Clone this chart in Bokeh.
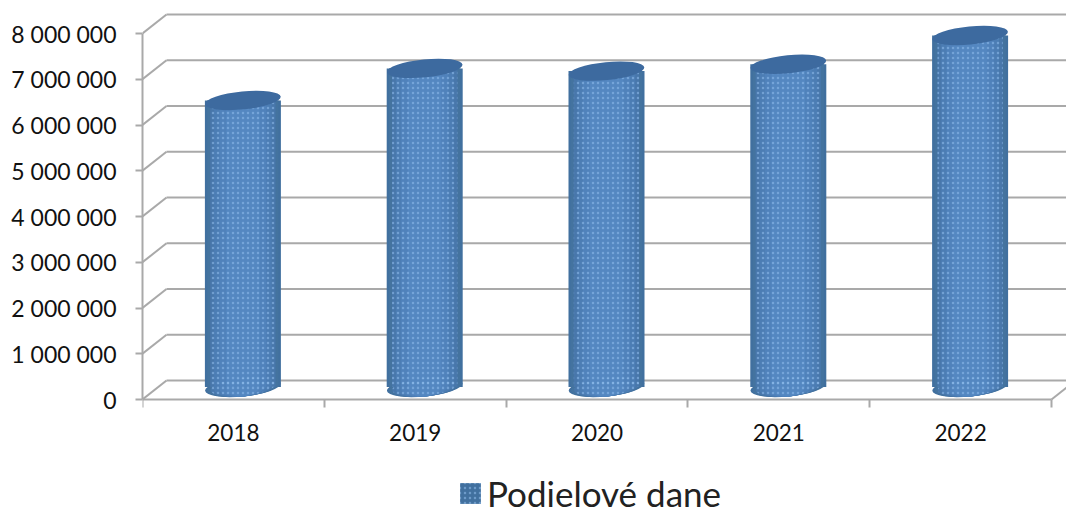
from bokeh.plotting import figure
from bokeh.models import ColumnDataSource, FixedTicker, Legend, LegendItem, CustomJSTickFormatter, Range1d
from bokeh.embed import file_html
from bokeh.resources import INLINE

years = ["2018", "2019", "2020", "2021", "2022"]
values = [6330000, 7030000, 6970000, 7120000, 7750000]
y_ticks = [0, 1000000, 2000000, 3000000, 4000000, 5000000, 6000000, 7000000, 8000000]
series_name = "Podielové dane"

W, H = 1066, 513
LEFT, BOTTOM = 142, 114
PX_CAT = 181.8
PX_M = 45.75
DX = 24 / PX_CAT
DY = 19 / PX_M * 1e6
BASE = 12.5 / PX_M * 1e6
FONT = "Lato"

x_end = (W - LEFT) / PX_CAT
y_end = (H - BOTTOM) / PX_M * 1e6
y_start = -BOTTOM / PX_M * 1e6

p = figure(width=W, height=H, output_backend="svg", toolbar_location=None,
           x_range=Range1d(0, x_end), y_range=Range1d(y_start, y_end),
           min_border_left=LEFT, min_border_bottom=0, min_border_top=0, min_border_right=0,
           outline_line_color=None, background_fill_color="white")
p.grid.visible = False

GRID = "#a9a9a9"
n = len(years)
p.segment(x0=[0] * len(y_ticks), y0=y_ticks, x1=[DX] * len(y_ticks), y1=[v + DY for v in y_ticks],
          line_color=GRID, line_width=2)
p.segment(x0=[DX] * len(y_ticks), y0=[v + DY for v in y_ticks], x1=[n + DX] * len(y_ticks),
          y1=[v + DY for v in y_ticks], line_color=GRID, line_width=2)
p.segment(x0=[n], y0=[0], x1=[n + DX], y1=[DY], line_color=GRID, line_width=2)

xc = [i + 0.5 + DX / 2 - 2.5 / PX_CAT for i in range(n)]
src = ColumnDataSource(dict(x=xc, top=[v + DY / 2 for v in values], bottom=[BASE] * n))
BW = 76 / PX_CAT
ELL = dict(width_units="screen", height_units="screen", angle=0.1, source=src, line_color=None)
base = p.vbar(x="x", top="top", bottom="bottom", width=BW, source=src, fill_color="#41709f", line_color=None)
p.ellipse(x="x", y="bottom", width=76, height=19, fill_color="#41709f", **ELL)
for frac, col in [(0.94, "#44739f"), (0.86, "#4877ab"), (0.76, "#4c7db4"), (0.62, "#5082bb"), (0.44, "#5487c1")]:
    p.vbar(x="x", top="top", bottom="bottom", width=BW * frac, source=src, fill_color=col, line_color=None)
    p.ellipse(x="x", y="bottom", width=76 * frac, height=19, fill_color=col, **ELL)
dots = p.vbar(x="x", top="top", bottom="bottom", width=BW * 0.86, source=src, fill_alpha=0, line_color=None,
              hatch_pattern="dot", hatch_color="#8fbcec", hatch_scale=5, hatch_alpha=0.55)
p.ellipse(x="x", y="bottom", width=76 * 0.86, height=18, fill_alpha=0,
          hatch_pattern="dot", hatch_color="#8fbcec", hatch_scale=5, hatch_alpha=0.55, **ELL)
p.ellipse(x="x", y="top", width=76, height=18, fill_color="#3d6a9f", **ELL)

ax = p.yaxis[0]
ax.ticker = FixedTicker(ticks=y_ticks)
ax.bounds = (0, 8000000)
ax.formatter = CustomJSTickFormatter(code="return tick.toString().replace(/\\B(?=(\\d{3})+(?!\\d))/g, ' ')")
ax.axis_line_color = GRID
ax.axis_line_width = 2
ax.major_tick_line_color = GRID
ax.major_tick_line_width = 2
ax.major_tick_out = 7
ax.major_tick_in = 0
ax.minor_tick_line_color = None
ax.major_label_text_font = FONT
ax.major_label_text_font_size = "23px"
ax.major_label_text_color = "#111111"
ax.major_label_standoff = 19

bx = p.xaxis[0]
bx.fixed_location = 0
bx.ticker = FixedTicker(ticks=[i + 0.5 for i in range(n)], minor_ticks=list(range(n + 1)))
bx.major_label_overrides = {i + 0.5: y for i, y in enumerate(years)}
bx.bounds = (0, n)
bx.axis_line_color = GRID
bx.axis_line_width = 2
bx.major_tick_line_color = None
bx.minor_tick_line_color = GRID
bx.minor_tick_line_width = 2
bx.minor_tick_out = 8
bx.minor_tick_in = 0
bx.major_label_text_font = FONT
bx.major_label_text_font_size = "22.5px"
bx.major_label_text_color = "#111111"
bx.major_label_standoff = 16

legend = Legend(items=[LegendItem(label=series_name, renderers=[base, dots])], location=(315, -1),
                orientation="horizontal", border_line_color=None, background_fill_alpha=0,
                label_text_font=FONT, label_text_font_size="35px", label_text_color="#222222",
                glyph_width=26, glyph_height=26, padding=0, margin=0, label_standoff=4)
p.add_layout(legend)

open("out.html", "w").write(file_html(p, INLINE))
